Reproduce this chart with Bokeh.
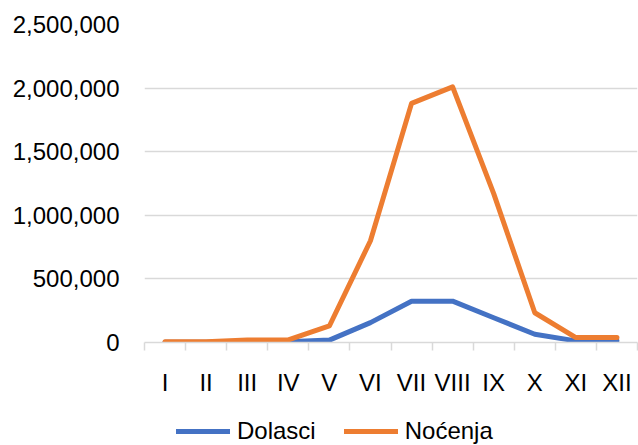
from bokeh.plotting import figure
from bokeh.layouts import column
from bokeh.models import (Range1d, FixedTicker, NumeralTickFormatter, Legend, LegendItem,
                          ColumnDataSource)
from bokeh.embed import file_html
from bokeh.resources import INLINE
import numpy as np

months = ["I", "II", "III", "IV", "V", "VI", "VII", "VIII", "IX", "X", "XI", "XII"]
dolasci = [1500, 2000, 5000, 5000, 19000, 156000, 325000, 325000, 195000, 65000, 13000, 13000]
nocenja = [5000, 5000, 20000, 20000, 130000, 800000, 1880000, 2010000, 1170000, 234000, 39000, 39000]
y_ticks = [0, 500000, 1000000, 1500000, 2000000, 2500000]
series_names = ["Dolasci", "Noćenja"]

FONT = "Liberation Sans"
BLUE = "#4472C4"
ORANGE = "#ED7D31"
GRID = "#D9D9D9"

xs = np.arange(len(months)) + 0.5
src = ColumnDataSource(dict(x=xs, d=dolasci, n=nocenja))

p = figure(width=638, height=400, output_backend="svg", toolbar_location=None,
           x_range=Range1d(0, len(months)), y_range=Range1d(0, y_ticks[-1]),
           min_border_left=144, min_border_right=1, min_border_top=24, min_border_bottom=58)
p.outline_line_color = None
p.background_fill_color = "white"
p.border_fill_color = "white"

r1 = p.line("x", "d", source=src, line_color=BLUE, line_width=5,
            line_cap="round", line_join="round")
r2 = p.line("x", "n", source=src, line_color=ORANGE, line_width=5,
            line_cap="round", line_join="round")

# x axis
xa = p.xaxis[0]
xa.ticker = FixedTicker(ticks=list(xs), minor_ticks=list(range(len(months) + 1)))
xa.major_label_overrides = {float(x): m for x, m in zip(xs, months)}
xa.axis_line_color = GRID
xa.axis_line_width = 1.5
xa.major_tick_line_color = None
xa.major_tick_out = 0
xa.major_tick_in = 0
xa.minor_tick_line_color = GRID
xa.minor_tick_line_width = 1.5
xa.minor_tick_out = 8
xa.minor_tick_in = 0
xa.major_label_standoff = 18
xa.major_label_text_font = FONT
xa.major_label_text_font_size = "24px"
xa.major_label_text_color = "black"

# y axis
ya = p.yaxis[0]
ya.ticker = FixedTicker(ticks=y_ticks)
ya.formatter = NumeralTickFormatter(format="0,0")
ya.axis_line_color = None
ya.major_tick_line_color = None
ya.minor_tick_line_color = None
ya.major_tick_out = 0
ya.major_tick_in = 0
ya.major_label_standoff = 25
ya.major_label_text_font = FONT
ya.major_label_text_font_size = "24px"
ya.major_label_text_color = "black"

p.xgrid.grid_line_color = None
p.ygrid.ticker = FixedTicker(ticks=y_ticks)
p.ygrid.grid_line_color = GRID
p.ygrid.grid_line_width = 1.5

# legend strip below the chart (same series, drawn out of view; only the legend shows)
pl = figure(width=638, height=45, output_backend="svg", toolbar_location=None,
            x_range=Range1d(0, len(months)), y_range=Range1d(-2, -1),
            x_axis_location=None, y_axis_location=None,
            min_border_left=144, min_border_right=1, min_border_top=0, min_border_bottom=0)
pl.outline_line_color = None
pl.xgrid.grid_line_color = None
pl.ygrid.grid_line_color = None
l1 = pl.line("x", "d", source=src, line_color=BLUE, line_width=5, line_cap="round")
l2 = pl.line("x", "n", source=src, line_color=ORANGE, line_width=5, line_cap="round")

legend = Legend(items=[LegendItem(label=series_names[0], renderers=[l1]),
                       LegendItem(label=series_names[1], renderers=[l2])],
                orientation="horizontal", location=(32, 0),
                glyph_width=54, glyph_height=20, label_height=20, label_standoff=7, spacing=28,
                padding=0, margin=0, border_line_color=None, background_fill_alpha=0,
                label_text_font=FONT, label_text_font_size="24px", label_text_color="black")
pl.add_layout(legend, "center")

open("out.html", "w").write(file_html(column(p, pl, spacing=0), INLINE))
